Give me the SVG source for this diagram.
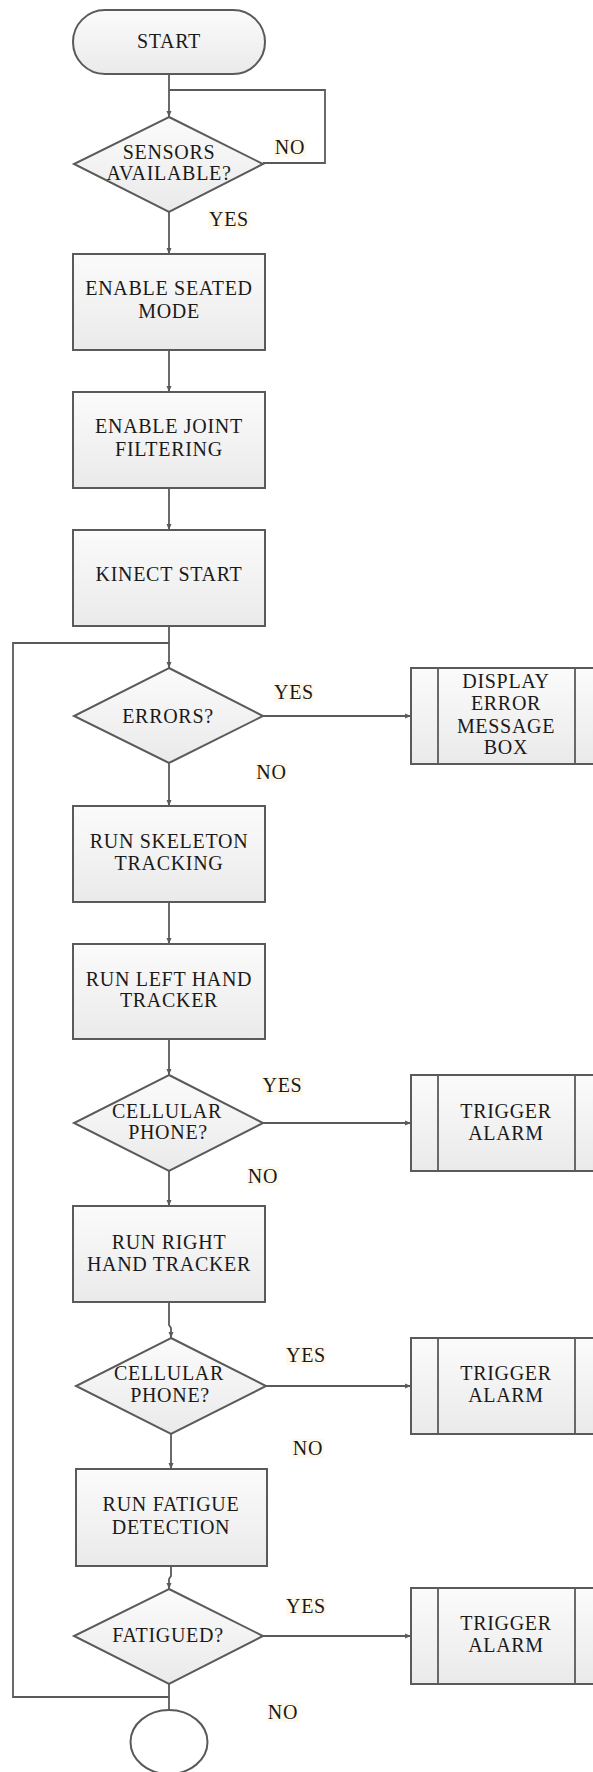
<svg xmlns="http://www.w3.org/2000/svg" width="593" height="1772" viewBox="0 0 593 1772">
<defs>
<linearGradient id="g" x1="0" y1="0" x2="0" y2="1">
<stop offset="0" stop-color="#fbfbfb"/>
<stop offset="1" stop-color="#eaeaea"/>
</linearGradient>
<marker id="arr" viewBox="0 0 6 6" refX="6" refY="3" markerWidth="6" markerHeight="6" markerUnits="userSpaceOnUse" orient="auto">
<path d="M0,0.5 L6,3 L0,5.5 Z" fill="#5a5a5a"/>
</marker>
<style>
.s{fill:url(#g);stroke:#5a5a5a;stroke-width:2}
.c{fill:none;stroke:#5a5a5a;stroke-width:1.8}
.ca{fill:none;stroke:#5a5a5a;stroke-width:1.8;marker-end:url(#arr)}
.t{font-family:"Liberation Serif","Times New Roman",serif;font-size:20px;fill:#1a1a1a;text-anchor:middle;letter-spacing:0.7px}
.lb{fill:#fff9ec}
</style>
</defs>
<g id="connectors">
<path class="ca" d="M169,74 V117"/>
<path class="c" d="M263,163 H325 V90 H169"/>
<path class="ca" d="M169,212 V254"/>
<path class="ca" d="M169,350 V392"/>
<path class="ca" d="M169,488 V530"/>
<path class="ca" d="M169,626 V668"/>
<path class="ca" d="M263,716 H411"/>
<path class="ca" d="M169,763 V806"/>
<path class="ca" d="M169,902 V944"/>
<path class="ca" d="M169,1039 V1075"/>
<path class="ca" d="M263,1123 H411"/>
<path class="ca" d="M169,1171 V1206"/>
<path class="ca" d="M169,1302 V1325 L171,1328 V1338"/>
<path class="ca" d="M266,1386 H411"/>
<path class="ca" d="M171,1434 V1469"/>
<path class="ca" d="M171,1566 V1576 L169,1579 V1589"/>
<path class="ca" d="M263,1636 H411"/>
<path class="c" d="M169,1684 V1710"/>
<path class="c" d="M169,1697 H13 V643 H169"/>
</g>
<g id="labels">
<rect class="lb" x="274" y="138" width="32" height="19"/>
<text class="t" x="290" y="153.5">NO</text>
<rect class="lb" x="208" y="210" width="42" height="19"/>
<text class="t" x="229" y="225.5">YES</text>
<rect class="lb" x="274" y="683" width="40" height="19"/>
<text class="t" x="294" y="698.5">YES</text>
<rect class="lb" x="256" y="763" width="31" height="19"/>
<text class="t" x="271.5" y="778.5">NO</text>
<rect class="lb" x="262" y="1076" width="41" height="19"/>
<text class="t" x="282.5" y="1091.5">YES</text>
<rect class="lb" x="247" y="1167" width="32" height="19"/>
<text class="t" x="263" y="1182.5">NO</text>
<rect class="lb" x="286" y="1346" width="40" height="19"/>
<text class="t" x="306" y="1361.5">YES</text>
<rect class="lb" x="292" y="1439" width="32" height="19"/>
<text class="t" x="308" y="1454.5">NO</text>
<rect class="lb" x="286" y="1597" width="40" height="19"/>
<text class="t" x="306" y="1612.5">YES</text>
<rect class="lb" x="267" y="1703" width="32" height="19"/>
<text class="t" x="283" y="1718.5">NO</text>
</g>
<g id="start">
<rect class="s" x="73" y="10" width="192" height="64" rx="32" ry="32"/>
<text class="t" x="169" y="47.5">START</text>
</g>
<g id="sensors">
<polygon class="s" points="169,117 263,164 169,212 74,164"/>
<text class="t" x="169" y="158.5">SENSORS</text>
<text class="t" x="169" y="179.5">AVAILABLE?</text>
</g>
<g id="seated">
<rect class="s" x="73" y="254" width="192" height="96"/>
<text class="t" x="169" y="294.5">ENABLE SEATED</text>
<text class="t" x="169" y="317.5">MODE</text>
</g>
<g id="joint">
<rect class="s" x="73" y="392" width="192" height="96"/>
<text class="t" x="169" y="432.5">ENABLE JOINT</text>
<text class="t" x="169" y="455.5">FILTERING</text>
</g>
<g id="kinect">
<rect class="s" x="73" y="530" width="192" height="96"/>
<text class="t" x="169" y="580.5">KINECT START</text>
</g>
<g id="errors">
<polygon class="s" points="169,668 263,716 169,763 74,716"/>
<text class="t" x="168" y="722.5">ERRORS?</text>
</g>
<g id="display">
<rect class="s" x="411" y="668" width="192" height="96"/>
<line class="c" x1="438" y1="668" x2="438" y2="764"/>
<line class="c" x1="575" y1="668" x2="575" y2="764"/>
<text class="t" x="506" y="687.5">DISPLAY</text>
<text class="t" x="506" y="709.5">ERROR</text>
<text class="t" x="506" y="732.5">MESSAGE</text>
<text class="t" x="506" y="753.5">BOX</text>
</g>
<g id="skeleton">
<rect class="s" x="73" y="806" width="192" height="96"/>
<text class="t" x="169" y="847.5">RUN SKELETON</text>
<text class="t" x="169" y="869.5">TRACKING</text>
</g>
<g id="lefthand">
<rect class="s" x="73" y="944" width="192" height="95"/>
<text class="t" x="169" y="985.5">RUN LEFT HAND</text>
<text class="t" x="169" y="1006.5">TRACKER</text>
</g>
<g id="phone1">
<polygon class="s" points="169,1075 263,1123 169,1171 74,1123"/>
<text class="t" x="167" y="1117.5">CELLULAR</text>
<text class="t" x="168" y="1138.5">PHONE?</text>
</g>
<g id="alarm1">
<rect class="s" x="411" y="1075" width="192" height="96"/>
<line class="c" x1="438" y1="1075" x2="438" y2="1171"/>
<line class="c" x1="575" y1="1075" x2="575" y2="1171"/>
<text class="t" x="506" y="1117.5">TRIGGER</text>
<text class="t" x="506" y="1139.5">ALARM</text>
</g>
<g id="righthand">
<rect class="s" x="73" y="1206" width="192" height="96"/>
<text class="t" x="169" y="1248.5">RUN RIGHT</text>
<text class="t" x="169" y="1270.5">HAND TRACKER</text>
</g>
<g id="phone2">
<polygon class="s" points="171,1338 266,1386 171,1434 76,1386"/>
<text class="t" x="169" y="1379.5">CELLULAR</text>
<text class="t" x="170" y="1401.5">PHONE?</text>
</g>
<g id="alarm2">
<rect class="s" x="411" y="1338" width="192" height="96"/>
<line class="c" x1="438" y1="1338" x2="438" y2="1434"/>
<line class="c" x1="575" y1="1338" x2="575" y2="1434"/>
<text class="t" x="506" y="1379.5">TRIGGER</text>
<text class="t" x="506" y="1401.5">ALARM</text>
</g>
<g id="fatigue">
<rect class="s" x="76" y="1469" width="191" height="97"/>
<text class="t" x="171" y="1510.5">RUN FATIGUE</text>
<text class="t" x="171" y="1533.5">DETECTION</text>
</g>
<g id="fatigued">
<polygon class="s" points="169,1589 263,1636 169,1684 74,1636"/>
<text class="t" x="168" y="1641.5">FATIGUED?</text>
</g>
<g id="alarm3">
<rect class="s" x="411" y="1588" width="192" height="96"/>
<line class="c" x1="438" y1="1588" x2="438" y2="1684"/>
<line class="c" x1="575" y1="1588" x2="575" y2="1684"/>
<text class="t" x="506" y="1629.5">TRIGGER</text>
<text class="t" x="506" y="1651.5">ALARM</text>
</g>
<g id="end">
<ellipse cx="169" cy="1742" rx="38.5" ry="32" fill="#ffffff" stroke="#5a5a5a" stroke-width="2"/>
</g>
</svg>
